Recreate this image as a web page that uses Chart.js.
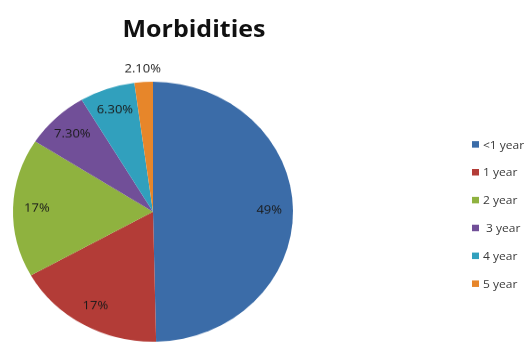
<!DOCTYPE html>
<html lang="en">
<head>
<meta charset="UTF-8">
<title>Morbidities</title>
<script src="https://cdn.jsdelivr.net/npm/chart.js"></script>
<style>
    body { margin: 0; background: #fff; overflow: hidden; }
    /* the whole figure is a little flatter than tall, so squash it vertically */
    .wrap { position: relative; width: 532px; height: 369px; transform: scaleY(0.9286); transform-origin: 0 0; }
    #pie { position: absolute; left: 0; top: 0; }
    .title { position: absolute; left: 194px; top: 30px; transform: translate(-50%, -50%);
             font: bold 25px "Open Sans", sans-serif; color: #111; white-space: nowrap; }
    .legend { position: absolute; left: 472px; top: 140px; font: 12px "Open Sans", sans-serif; color: #3a3a3a; }
    .legend div { height: 30px; display: flex; align-items: center; white-space: pre; }
    .legend span { display: inline-block; width: 7px; height: 7px; margin-right: 4px; }
</style>
</head>
<body>
<div class="wrap">
    <canvas id="pie" width="532" height="369"></canvas>
    <div class="title">Morbidities</div>
    <div class="legend" id="legend"></div>
</div>
<script>
    const categories = ['<1 year', '1 year', '2 year', ' 3 year', '4 year', '5 year'];
    const values = [49, 17, 17, 7.3, 6.3, 2.1];
    const valueLabels = ['49%', '17%', '17%', '7.30%', '6.30%', '2.10%'];
    const colors = ['#3b6ca8', '#b33c37', '#8fb23f', '#714f98', '#31a0bd', '#e7862a'];

    // percentage text on each slice, small slices get it just outside the rim
    const sliceLabels = {
        id: 'sliceLabels',
        afterDatasetsDraw(chart) {
            const ctx = chart.ctx;
            const total = values.reduce((a, b) => a + b, 0);
            ctx.save();
            ctx.font = '13px "Open Sans", sans-serif';
            ctx.fillStyle = '#1a1a1a';
            ctx.textAlign = 'center';
            ctx.textBaseline = 'middle';
            chart.getDatasetMeta(0).data.forEach((arc, i) => {
                const p = arc.getProps(['x', 'y', 'startAngle', 'endAngle', 'outerRadius'], true);
                const mid = (p.startAngle + p.endAngle) / 2;
                const f = values[i] / total < 0.03 ? 1.1 : 0.83;
                const r = p.outerRadius * f;
                ctx.fillText(valueLabels[i], p.x + Math.cos(mid) * r, p.y + Math.sin(mid) * r);
            });
            ctx.restore();
        }
    };

    new Chart(document.getElementById('pie'), {
        type: 'pie',
        data: {
            labels: categories,
            datasets: [{ data: values, backgroundColor: colors, borderWidth: 0 }]
        },
        options: {
            responsive: false,
            animation: false,
            layout: { padding: { left: 13, right: 239, top: 88, bottom: 1 } },
            plugins: { legend: { display: false }, tooltip: { enabled: false } }
        },
        plugins: [sliceLabels]
    });

    const legend = document.getElementById('legend');
    categories.forEach((c, i) => {
        const row = document.createElement('div');
        const box = document.createElement('span');
        box.style.background = colors[i];
        row.appendChild(box);
        row.appendChild(document.createTextNode(c));
        legend.appendChild(row);
    });
</script>
</body>
</html>
